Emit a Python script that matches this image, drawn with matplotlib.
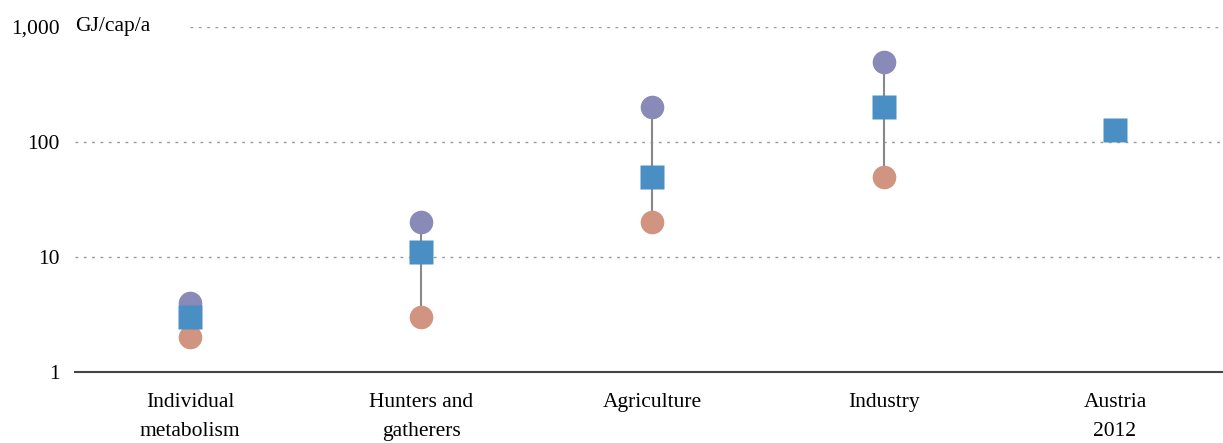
import numpy as np
import matplotlib.pyplot as plt

categories = ['Individual\nmetabolism', 'Hunters and\ngatherers', 'Agriculture', 'Industry', 'Austria\n2012']
high = [4, 20, 200, 500, None]
mid = [3, 11, 50, 200, 128]
low = [2, 3, 20, 50, None]
yticks = [1, 10, 100, 1000]
yticklabels = ['1', '10', '100', '1,000']

purple = '#8a8ab8'
blue = '#4a8fc4'
salmon = '#d09480'

plt.rcParams['font.family'] = ['Liberation Serif', 'DejaVu Serif']

fig = plt.figure(figsize=(12.23, 4.43), dpi=100)
ax = fig.add_axes([75 / 1223, 71 / 443, 1 - 75 / 1223, (372 - 27) / 443])
ax.set_yscale('log')
ax.set_ylim(1, 1000)
ax.set_xlim(-0.497, 4.467)

x = np.arange(len(categories))
for i in x:
    if high[i] is not None:
        ax.plot([i, i], [low[i], high[i]], color='#888888', lw=1.5, zorder=2, clip_on=False)
        ax.plot(i, high[i], 'o', ms=17, color=purple, mec='none', zorder=3, clip_on=False)
        ax.plot(i, low[i], 'o', ms=17, color=salmon, mec='none', zorder=3, clip_on=False)
    ax.plot(i, mid[i], 's', ms=17, color=blue, mec='none', zorder=4, clip_on=False)

# dotted grid lines
for t in yticks[1:]:
    x0 = 115 / 1148 if t == 1000 else 0
    ax.axhline(t, xmin=x0, xmax=1, color='#999999', lw=1, ls=(0, (2, 4)), zorder=1)

for s in ['top', 'right', 'left']:
    ax.spines[s].set_visible(False)
ax.spines['bottom'].set_color('#444444')
ax.spines['bottom'].set_linewidth(1.5)

ax.set_yticks(yticks)
ax.set_yticklabels(yticklabels, fontsize=15.5)
ax.yaxis.set_minor_locator(plt.NullLocator())
ax.tick_params(axis='y', length=0, pad=11)
ax.set_xticks(x)
ax.set_xticklabels(categories, fontsize=15.5, linespacing=1.7)
ax.tick_params(axis='x', length=0, pad=15)

ax.text(0, 1000, 'GJ/cap/a', transform=ax.get_yaxis_transform(), fontsize=15.5,
        va='center', ha='left')

fig.savefig('out.png', dpi=100)
